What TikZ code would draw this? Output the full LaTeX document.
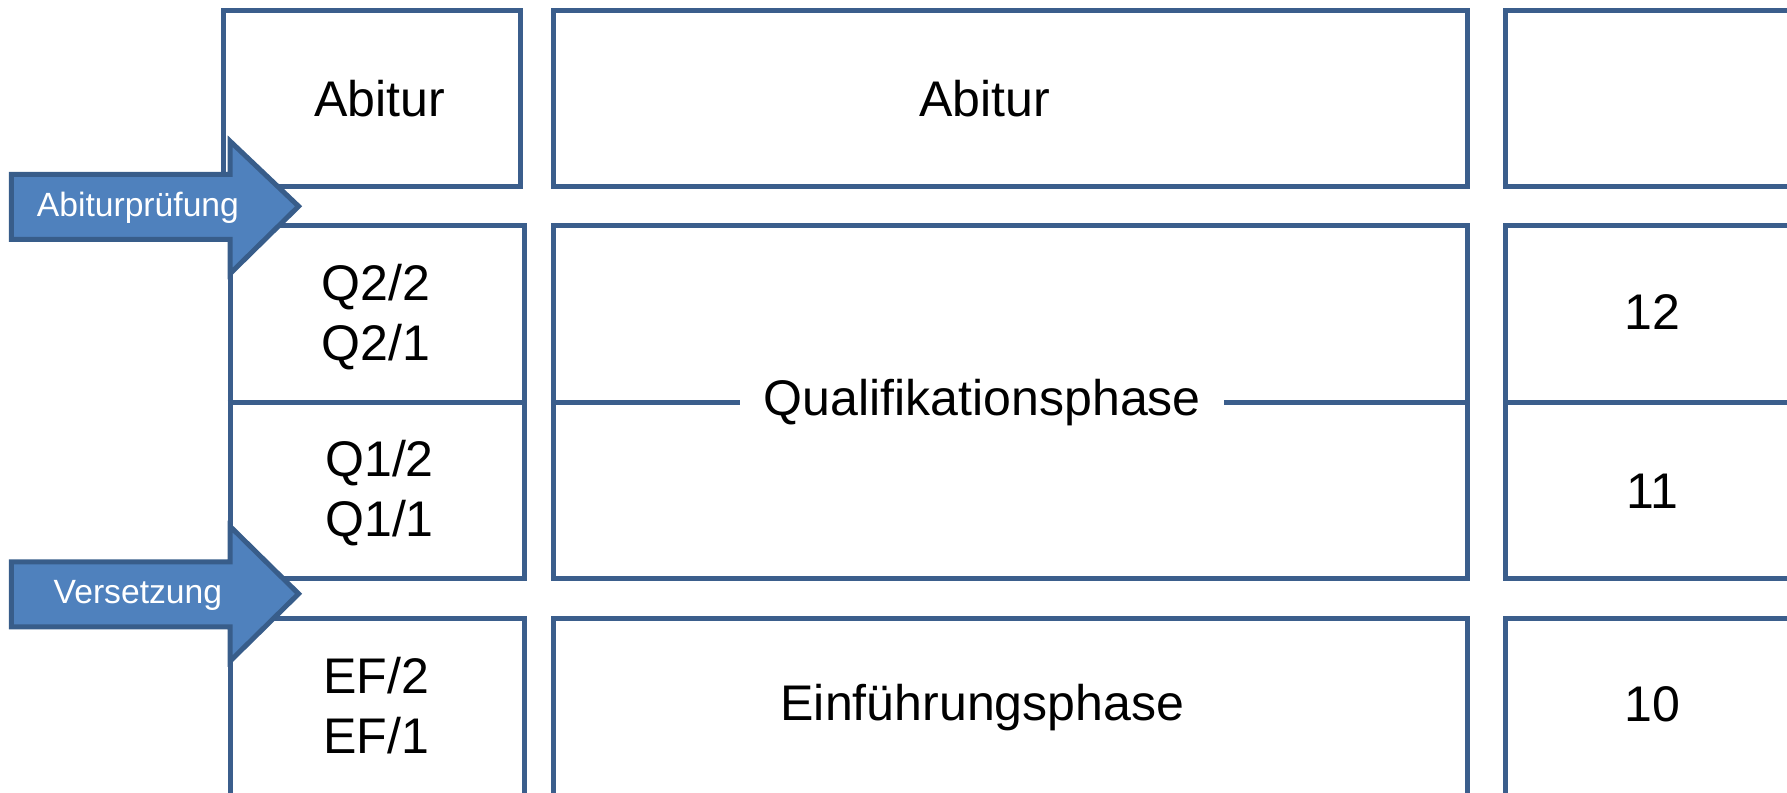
\documentclass[tikz,border=0pt]{standalone}
\usepackage{fontspec}
\setmainfont{Liberation Sans}
\definecolor{boxline}{RGB}{59,94,140}
\definecolor{arrowfill}{RGB}{79,129,189}
\definecolor{arrowline}{RGB}{56,93,138}
\begin{document}
\begin{tikzpicture}[
  cell/.style={draw=boxline, line width=1.25pt, rectangle, inner sep=0pt},
  lbl/.style={font=\fontsize{12.5}{15}\selectfont, align=center, inner sep=0pt},
  divider/.style={draw=boxline, line width=1.25pt},
  banner/.style={fill=arrowfill, draw=arrowline, line width=1.25pt, line join=miter},
  bannertext/.style={font=\fontsize{8.4}{10}\selectfont, text=white, inner sep=0pt}
]
\useasboundingbox (0,0) rectangle (15.68,6.95);
\clip (0,0) rectangle (15.68,6.95);
% left column
\node[cell, minimum width=2.61cm, minimum height=1.55cm] (abiL) at (3.265,6.085) {};
\node[cell, minimum width=2.58cm, minimum height=3.10cm] (qL) at (3.31,3.42) {};
\node[cell, minimum width=2.58cm, minimum height=2.02cm] (efL) at (3.31,0.51) {};
\draw[divider] (qL.west) -- (qL.east);
% middle column
\node[cell, minimum width=8.02cm, minimum height=1.55cm] (abiM) at (8.87,6.085) {};
\node[cell, minimum width=8.02cm, minimum height=3.10cm] (qM) at (8.87,3.42) {};
\node[cell, minimum width=8.02cm, minimum height=2.02cm] (efM) at (8.87,0.51) {};
% right column
\node[cell, minimum width=2.99cm, minimum height=1.55cm] (abiR) at (14.705,6.085) {};
\node[cell, minimum width=2.99cm, minimum height=3.10cm] (qR) at (14.705,3.42) {};
\node[cell, minimum width=2.99cm, minimum height=2.02cm] (efR) at (14.705,0.51) {};
\draw[divider] (qR.west) -- (qR.east);
% texts
\node[lbl] (tAbiL) at (3.33,6.085) {Abitur};
\node[lbl] (tAbiM) at (8.64,6.085) {Abitur};
\node[lbl] (tQ2) at (3.30,4.17) {Q2/2\\Q2/1};
\node[lbl] (tQ1) at (3.33,2.62) {Q1/2\\Q1/1};
\node[lbl] (tEF) at (3.30,0.76) {EF/2\\EF/1};
\node[lbl, inner xsep=0.2cm, fill=white] (tQM) at (8.62,3.42) {Qualifikationsphase};
\draw[divider] (qM.west) -- (tQM.west);
\draw[divider] (tQM.east) -- (qM.east);
\node[lbl] (tEFM) at (8.62,0.74) {Einführungsphase};
\node[lbl] (t12) at (14.50,4.21) {12};
\node[lbl] (t11) at (14.50,2.64) {11};
\node[lbl] (t10) at (14.50,0.77) {10};
% arrows
\draw[banner] (0.10,5.42) -- (2.02,5.42) -- (2.02,5.71) -- (2.62,5.14) -- (2.02,4.55) -- (2.02,4.85) -- (0.10,4.85) -- cycle;
\node[bannertext] (abpr) at (1.21,5.13) {Abiturprüfung};
\draw[banner] (0.10,2.02) -- (2.02,2.02) -- (2.02,2.33) -- (2.62,1.74) -- (2.02,1.15) -- (2.02,1.45) -- (0.10,1.45) -- cycle;
\node[bannertext] (vers) at (1.21,1.73) {Versetzung};
\end{tikzpicture}
\end{document}
